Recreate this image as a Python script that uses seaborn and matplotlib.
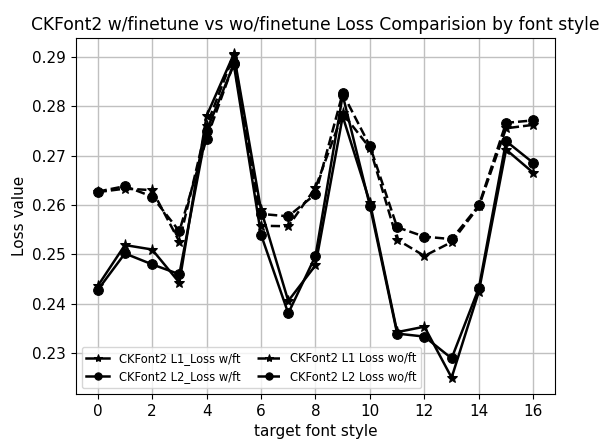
import matplotlib
matplotlib.use("Agg")
import matplotlib.pyplot as plt
import numpy as np
import pandas as pd
import seaborn as sns

# target font style index
styles = list(range(17))

l1_wft = [0.2436, 0.2519, 0.2510, 0.2443, 0.2780, 0.2905, 0.2590, 0.2406, 0.2478,
          0.2779, 0.2605, 0.2343, 0.2354, 0.2251, 0.2425, 0.2712, 0.2665]
l2_wft = [0.2428, 0.2502, 0.2480, 0.2460, 0.2750, 0.2884, 0.2540, 0.2381, 0.2497,
          0.2822, 0.2598, 0.2340, 0.2334, 0.2290, 0.2432, 0.2729, 0.2685]
l1_woft = [0.2626, 0.2633, 0.2630, 0.2526, 0.2760, 0.2903, 0.2558, 0.2557, 0.2635,
           0.2785, 0.2715, 0.2530, 0.2497, 0.2525, 0.2597, 0.2755, 0.2762]
l2_woft = [0.2627, 0.2638, 0.2617, 0.2547, 0.2734, 0.2886, 0.2582, 0.2577, 0.2622,
           0.2826, 0.2719, 0.2555, 0.2536, 0.2531, 0.2599, 0.2766, 0.2771]

labels = ["CKFont2 L1_Loss w/ft", "CKFont2 L2_Loss w/ft",
          "CKFont2 L1 Loss wo/ft", "CKFont2 L2 Loss wo/ft"]

plt.rcParams.update({"font.size": 11})

fig = plt.figure(figsize=(6.12, 4.46), dpi=100)
ax = fig.add_axes([0.124, 0.117, 0.783, 0.798])

series = [
    (l1_wft, "*", "-", 8),
    (l2_wft, "o", "-", 7),
    (l1_woft, "*", "--", 8),
    (l2_woft, "o", "--", 7),
]
for (vals, marker, ls, ms), label in zip(series, labels):
    df = pd.DataFrame({"style": styles, "loss": vals})
    sns.lineplot(data=df, x="style", y="loss", ax=ax, color="black",
                 marker=marker, markersize=ms, linestyle=ls, linewidth=1.8,
                 markeredgecolor="black", label=label, legend=False)

ax.set_xticks(np.arange(0, 17, 2))
ax.set_yticks([0.23, 0.24, 0.25, 0.26, 0.27, 0.28, 0.29])
ax.grid(True, color="#c0c0c0", linewidth=1.0)
ax.set_xlabel("target font style")
ax.set_ylabel("Loss value")
ax.set_title("CKFont2 w/finetune vs wo/finetune Loss Comparision by font style",
             fontsize=12.3)
ax.legend(handles=ax.get_lines()[:4], labels=labels, loc="lower left", ncol=2,
          fontsize=8.3, handlelength=2, columnspacing=1.5, markerscale=0.75)

fig.savefig("out.png", dpi=100)
